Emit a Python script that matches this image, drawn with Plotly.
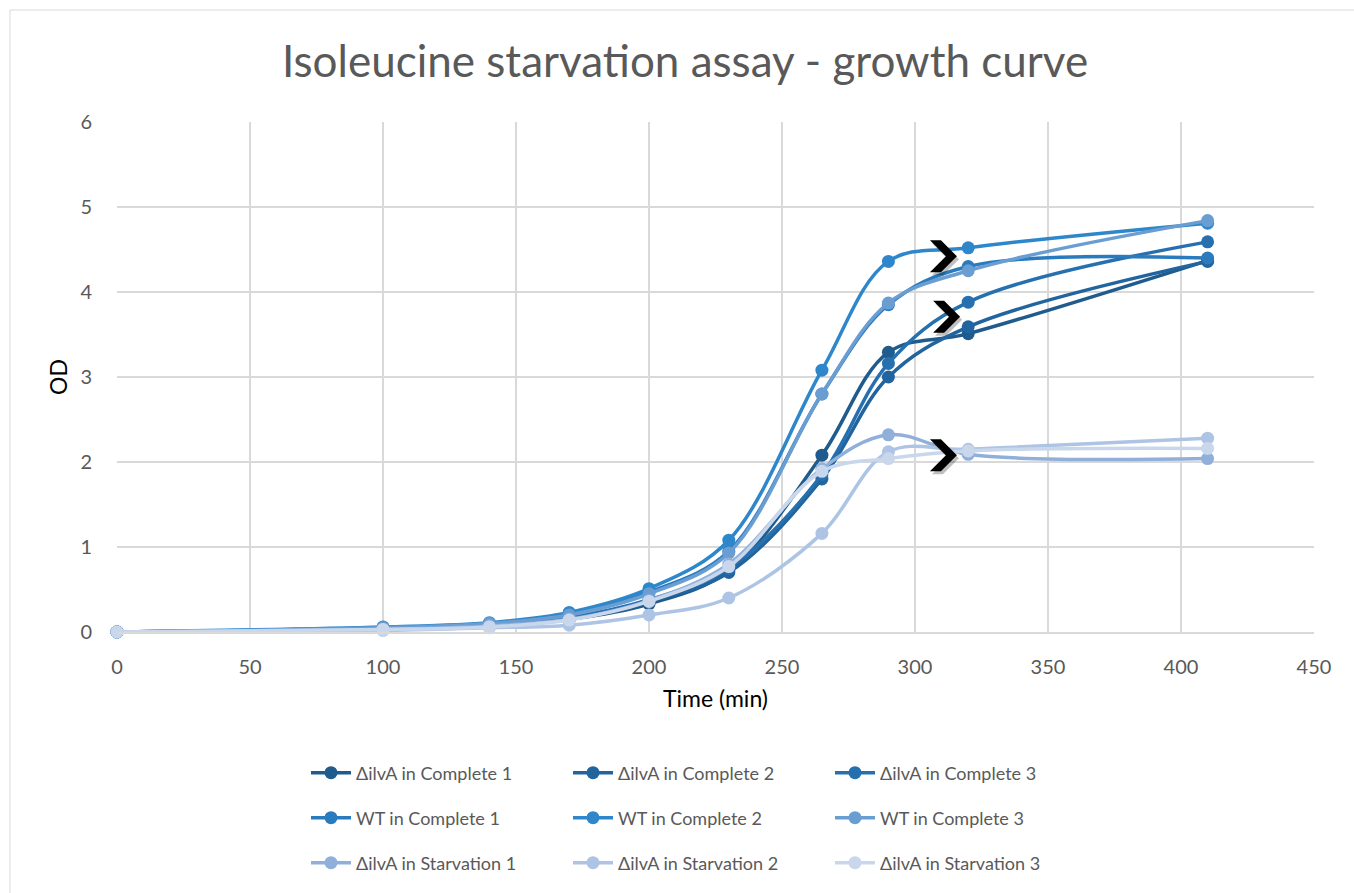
import plotly.graph_objects as go

# Sampling times (min)
time_min = [0, 100, 140, 170, 200, 230, 265, 290, 320, 410]

# OD readings per culture
dilva_complete_1 = [0, 0.04, 0.08, 0.15, 0.33, 0.72, 2.08, 3.29, 3.51, 4.37]
dilva_complete_2 = [0, 0.04, 0.08, 0.16, 0.36, 0.70, 1.80, 3.00, 3.59, 4.36]
dilva_complete_3 = [0, 0.04, 0.09, 0.17, 0.38, 0.75, 1.85, 3.16, 3.88, 4.59]
wt_complete_1 = [0, 0.05, 0.10, 0.21, 0.47, 0.95, 2.80, 3.85, 4.30, 4.40]
wt_complete_2 = [0, 0.06, 0.11, 0.23, 0.51, 1.08, 3.08, 4.36, 4.52, 4.81]
wt_complete_3 = [0, 0.05, 0.10, 0.20, 0.45, 0.93, 2.80, 3.87, 4.25, 4.84]
dilva_starv_1 = [0, 0.03, 0.07, 0.15, 0.37, 0.80, 1.92, 2.32, 2.09, 2.04]
dilva_starv_2 = [0, 0.02, 0.05, 0.08, 0.20, 0.40, 1.16, 2.12, 2.15, 2.28]
dilva_starv_3 = [0, 0.03, 0.06, 0.14, 0.36, 0.77, 1.89, 2.04, 2.13, 2.16]

series_names = [
    "ΔilvA in Complete 1", "ΔilvA in Complete 2", "ΔilvA in Complete 3",
    "WT in Complete 1", "WT in Complete 2", "WT in Complete 3",
    "ΔilvA in Starvation 1", "ΔilvA in Starvation 2", "ΔilvA in Starvation 3",
]
series_values = [
    dilva_complete_1, dilva_complete_2, dilva_complete_3,
    wt_complete_1, wt_complete_2, wt_complete_3,
    dilva_starv_1, dilva_starv_2, dilva_starv_3,
]
series_colors = [
    "#1F5B8C", "#22649E", "#2670B0",
    "#2A7BBE", "#2E87CB", "#6A9ED3",
    "#90AFDA", "#AEC4E4", "#C9D7EC",
]

# Chevron call-outs (time, OD)
callout_x = [310.5, 311.7, 310.5]
callout_y = [4.42, 3.71, 2.08]

FONT = "Lato, 'Open Sans', sans-serif"
TXT = "#595959"

W, H = 1354, 893
L, R, T, B = 117, 40, 122, 261
pw = W - L - R
ph = H - T - B

fig = go.Figure()
legend_ids = ["legend", "legend2", "legend3"]
for i, (name, vals, col) in enumerate(zip(series_names, series_values, series_colors)):
    fig.add_trace(go.Scatter(
        x=time_min, y=vals, name=name, mode="lines+markers",
        line=dict(color=col, width=3.5, shape="spline", smoothing=1.0),
        marker=dict(color=col, size=13),
        cliponaxis=False,
        legend=legend_ids[i // 3],
    ))

# chevron outline in pixels around its anchor
chevron = "M -13,16 L -2,16 L 14,0 L -2,-16 L -13,-16 L 3,0 Z"
shadow = "M -11,13 L 0,13 L 16,-3 L 0,-19 L -11,-19 L 5,-3 Z"
shapes = []
for cx, cy in zip(callout_x, callout_y):
    shapes.append(dict(type="path", xref="x", yref="y", xsizemode="pixel", ysizemode="pixel",
                       xanchor=cx, yanchor=cy, path=shadow,
                       fillcolor="rgba(0,0,0,0.25)", line=dict(width=0), layer="above"))
    shapes.append(dict(type="path", xref="x", yref="y", xsizemode="pixel", ysizemode="pixel",
                       xanchor=cx, yanchor=cy, path=chevron,
                       fillcolor="#000000", line=dict(width=0), layer="above"))

# outer chart border
shapes.append(dict(type="rect", xref="paper", yref="paper",
                   x0=(10 - L) / pw, x1=(1370 - L) / pw,
                   y0=(T + ph - 910) / ph, y1=(T + ph - 10) / ph,
                   line=dict(color="#D9D9D9", width=1), fillcolor="rgba(0,0,0,0)", layer="below"))

def row_legend(py):
    return dict(orientation="h", x=(306 - L) / pw, xanchor="left",
                y=(T + ph - py) / ph, yanchor="middle",
                font=dict(family=FONT, size=18, color=TXT),
                entrywidth=207, entrywidthmode="pixels",
                bgcolor="rgba(0,0,0,0)", itemwidth=40, tracegroupgap=0)

fig.update_layout(
    width=W, height=H,
    margin=dict(l=L, r=R, t=T, b=B),
    paper_bgcolor="white", plot_bgcolor="white",
    title=dict(text="Isoleucine starvation assay - growth curve",
               x=685 / W, xanchor="center", y=1 - 62 / H, yanchor="middle",
               font=dict(family=FONT, size=44, color=TXT)),
    xaxis=dict(range=[0, 450], dtick=50, tick0=0, showgrid=True, gridcolor="#D9D9D9", gridwidth=1.5,
               zeroline=False, showline=True, linecolor="#D9D9D9", linewidth=1.5,
               tickfont=dict(family=FONT, size=20, color=TXT), ticks="", ticklabelstandoff=16,
               title=dict(text="Time (min)", font=dict(family=FONT, size=23, color="black"), standoff=14)),
    yaxis=dict(range=[0, 6], dtick=1, tick0=0, showgrid=True, gridcolor="#D9D9D9", gridwidth=1.5,
               zeroline=False, showline=False,
               tickfont=dict(family=FONT, size=20, color=TXT), ticks="", ticklabelstandoff=24,
               title=dict(text="OD", font=dict(family=FONT, size=23, color="black"), standoff=6)),
    legend=row_legend(773),
    legend2=row_legend(818),
    legend3=row_legend(863),
    shapes=shapes,
    showlegend=True,
)

fig.write_html("out.html")
